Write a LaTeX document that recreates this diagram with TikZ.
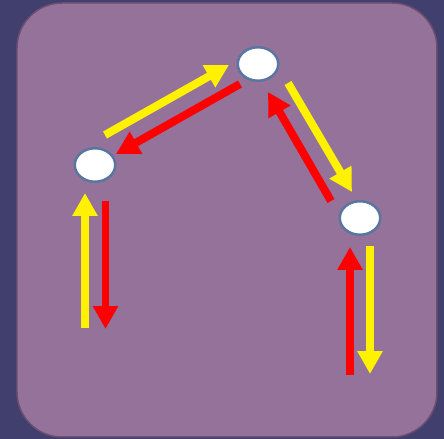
\documentclass[tikz,border=0pt]{standalone}
\usetikzlibrary{arrows.meta,shapes.geometric}
\definecolor{bgblue}{RGB}{64,63,110}
\definecolor{panel}{RGB}{149,114,153}
\definecolor{panelrim}{RGB}{108,78,112}
\definecolor{ringblue}{RGB}{88,118,160}
\tikzset{
  spot/.style={ellipse, draw=ringblue, line width=0.05cm, fill=white, minimum width=0.81cm, minimum height=0.67cm, inner sep=0pt},
  yarr/.style={yellow, line width=0.16cm, -{Triangle[length=0.46cm,width=0.48cm]}},
  rarr/.style={red, line width=0.16cm, -{Triangle[length=0.46cm,width=0.48cm]}}
}
\begin{document}
\begin{tikzpicture}[x=0.02cm,y=-0.02cm]
\fill[bgblue] (0,0) rectangle (444,439);
\draw[panelrim, fill=panel, line width=0.03cm, rounded corners=0.9cm] (17,3) rectangle (437,437);

\node[spot](L) at (95,165){};
\node[spot](T) at (258,64){};
\node[spot](R) at (360,218){};

% arrow ends
\coordinate (y1a) at (105,135);
\coordinate (y1b) at (229,65);
\coordinate (r1a) at (240,84);
\coordinate (r1b) at (116,154);
\coordinate (y2a) at (288,83);
\coordinate (y2b) at (352,192);
\coordinate (r2a) at (331,201);
\coordinate (r2b) at (268,92);
\coordinate (y3a) at (85,328);
\coordinate (y3b) at (85,193);
\coordinate (r3a) at (105.5,201);
\coordinate (r3b) at (105.5,329);
\coordinate (r4a) at (350,375);
\coordinate (r4b) at (350,247);
\coordinate (y4a) at (370,246);
\coordinate (y4b) at (370,374);

\draw[yarr](y1a)--(y1b);
\draw[rarr](r1a)--(r1b);
\draw[yarr](y2a)--(y2b);
\draw[rarr](r2a)--(r2b);
\draw[yarr](y3a)--(y3b);
\draw[rarr](r3a)--(r3b);
\draw[rarr](r4a)--(r4b);
\draw[yarr](y4a)--(y4b);

\end{tikzpicture}
\end{document}
